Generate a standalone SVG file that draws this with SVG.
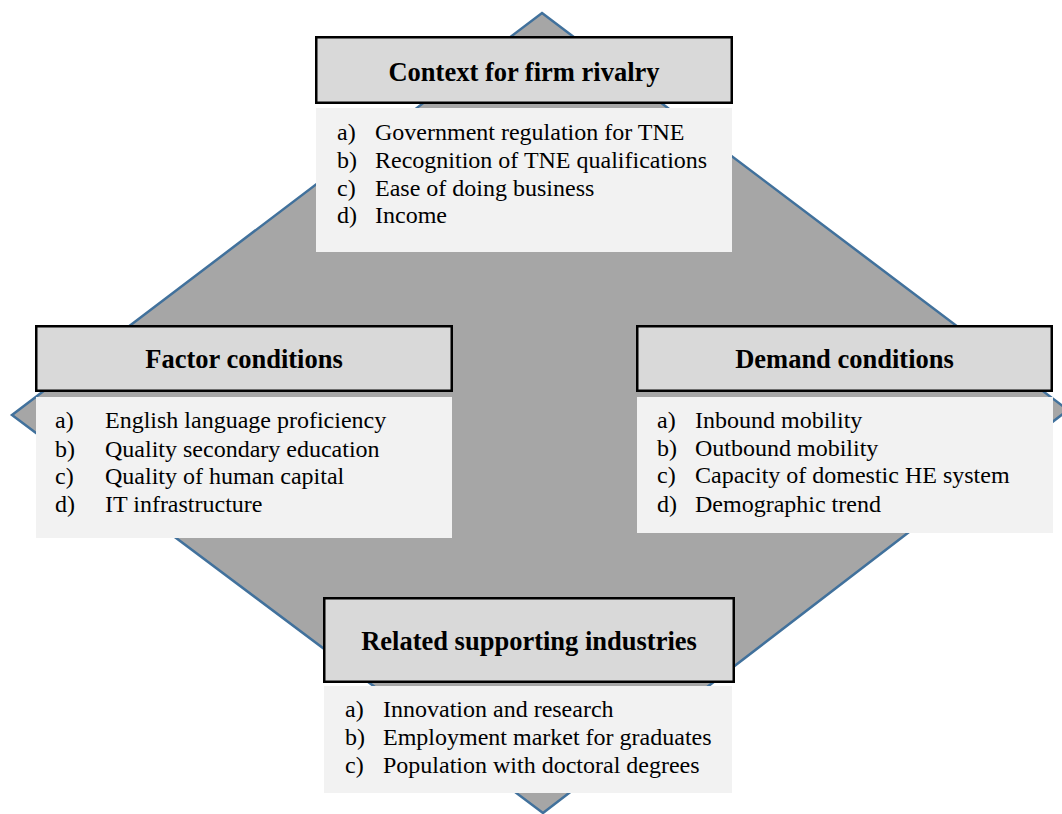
<svg xmlns="http://www.w3.org/2000/svg" width="1062" height="814" viewBox="0 0 1062 814">
<style>
.hdr{fill:#d9d9d9;stroke:#000;stroke-width:2.5}
.body{fill:#f2f2f2}
.ht{font-family:"Liberation Serif","Times New Roman",serif;font-weight:bold;font-size:26.5px;fill:#000;text-anchor:middle}
.bt{font-family:"Liberation Serif","Times New Roman",serif;font-size:24px;fill:#000}
</style>
<rect width="1062" height="814" fill="#fff"/>
<g id="diamond">
<polygon points="542,13 1068,410 543,813 12,415" fill="#a6a6a6" stroke="#41719c" stroke-width="2.5"/>
</g>
<g id="connectors"></g>
<g id="context">
<rect class="hdr" x="316.25" y="37.25" width="415.5" height="65.5"/>
<text class="ht" x="524" y="81">Context for firm rivalry</text>
<rect class="body" x="316" y="108" width="416" height="144"/>
<text class="bt" x="337" y="140">a)</text><text class="bt" x="375" y="140">Government regulation for TNE</text>
<text class="bt" x="337" y="168">b)</text><text class="bt" x="375" y="168">Recognition of TNE qualifications</text>
<text class="bt" x="337" y="196">c)</text><text class="bt" x="375" y="196">Ease of doing business</text>
<text class="bt" x="337" y="223">d)</text><text class="bt" x="375" y="223">Income</text>
</g>
<g id="factor">
<rect class="hdr" x="36.25" y="326.25" width="415.5" height="64.5"/>
<text class="ht" x="244" y="368">Factor conditions</text>
<rect class="body" x="36" y="397" width="416" height="141"/>
<text class="bt" x="55" y="428">a)</text><text class="bt" x="105" y="428">English language proficiency</text>
<text class="bt" x="55" y="457">b)</text><text class="bt" x="105" y="457">Quality secondary education</text>
<text class="bt" x="55" y="484">c)</text><text class="bt" x="105" y="484">Quality of human capital</text>
<text class="bt" x="55" y="512">d)</text><text class="bt" x="105" y="512">IT infrastructure</text>
</g>
<g id="demand">
<rect class="hdr" x="637.25" y="326.25" width="414.5" height="64.5"/>
<text class="ht" x="844.5" y="368">Demand conditions</text>
<rect class="body" x="637" y="397" width="416" height="136"/>
<text class="bt" x="657" y="428">a)</text><text class="bt" x="695" y="428">Inbound mobility</text>
<text class="bt" x="657" y="456">b)</text><text class="bt" x="695" y="456">Outbound mobility</text>
<text class="bt" x="657" y="483">c)</text><text class="bt" x="695" y="483">Capacity of domestic HE system</text>
<text class="bt" x="657" y="512">d)</text><text class="bt" x="695" y="512">Demographic trend</text>
</g>
<g id="related">
<rect class="hdr" x="324.25" y="598.25" width="409.5" height="83.5"/>
<text class="ht" x="529" y="650">Related supporting industries</text>
<rect class="body" x="324" y="686" width="408" height="107"/>
<text class="bt" x="345" y="717">a)</text><text class="bt" x="383" y="717">Innovation and research</text>
<text class="bt" x="345" y="745">b)</text><text class="bt" x="383" y="745">Employment market for graduates</text>
<text class="bt" x="345" y="773">c)</text><text class="bt" x="383" y="773">Population with doctoral degrees</text>
</g>
</svg>
